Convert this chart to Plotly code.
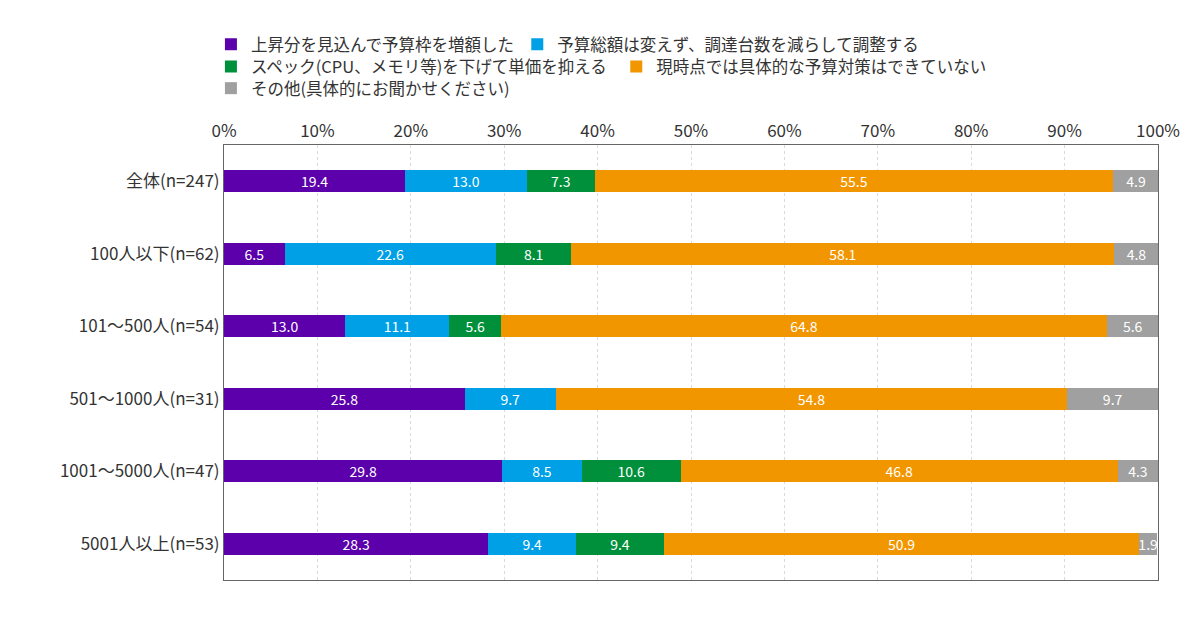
import plotly.graph_objects as go

# Categories (top to bottom)
categories = ["全体(n=247)", "100人以下(n=62)", "101～500人(n=54)",
              "501～1000人(n=31)", "1001～5000人(n=47)", "5001人以上(n=53)"]

series_names = [
    "上昇分を見込んで予算枠を増額した",
    "予算総額は変えず、調達台数を減らして調整する",
    "スペック(CPU、メモリ等)を下げて単価を抑える",
    "現時点では具体的な予算対策はできていない",
    "その他(具体的にお聞かせください)",
]

increase = [19.4, 6.5, 13.0, 25.8, 29.8, 28.3]
reduce_units = [13.0, 22.6, 11.1, 9.7, 8.5, 9.4]
lower_spec = [7.3, 8.1, 5.6, 0.0, 10.6, 9.4]
no_measure = [55.5, 58.1, 64.8, 54.8, 46.8, 50.9]
other = [4.9, 4.8, 5.6, 9.7, 4.3, 1.9]

tick_vals = [0, 10, 20, 30, 40, 50, 60, 70, 80, 90, 100]
tick_text = [f"{v}%" for v in tick_vals]

colors = ["#5B00AA", "#00A0E6", "#00903C", "#F29600", "#A0A0A0"]

# one legend per entry so the rows flow like the original
legend_ids = ["legend", "legend2", "legend3", "legend4", "legend5"]
legend_pos = [(-0.014, 1.231), (0.314, 1.231), (-0.014, 1.180), (0.420, 1.180), (-0.014, 1.130)]

font_family = "Noto Sans CJK JP"

fig = go.Figure()

for name, values, color, lg in zip(series_names,
                                   [increase, reduce_units, lower_spec, no_measure, other],
                                   colors, legend_ids):
    fig.add_trace(go.Bar(
        y=categories,
        x=values,
        name=name,
        orientation="h",
        legend=lg,
        marker=dict(color=color, line=dict(width=0)),
        text=[f"{v:.1f}" if v > 0 else "" for v in values],
        textposition="inside",
        insidetextanchor="middle",
        textangle=0,
        constraintext="none",
        textfont=dict(color="white", size=14, family=font_family),
    ))

legend_style = dict(
    orientation="h",
    xanchor="left",
    yanchor="middle",
    font=dict(size=16.5, color="#333333", family=font_family),
    bgcolor="rgba(0,0,0,0)",
)
legends = {}
for lg, (lx, ly) in zip(legend_ids, legend_pos):
    legends[lg] = dict(legend_style, x=lx, y=ly)

fig.update_layout(
    width=1184,
    height=601,
    barmode="stack",
    bargap=0.69,
    plot_bgcolor="white",
    paper_bgcolor="white",
    font=dict(family=font_family, color="#333333"),
    margin=dict(l=216, r=31, t=137, b=29),
    showlegend=True,
    **legends,
    xaxis=dict(
        side="top",
        range=[0, 100],
        tickvals=tick_vals,
        ticktext=tick_text,
        tickfont=dict(size=17, color="#333333"),
        showgrid=True,
        gridcolor="#D9D9D9",
        griddash="dot",
        zeroline=False,
        showline=True,
        linecolor="#666666",
        mirror=True,
        ticks="",
        fixedrange=True,
    ),
    yaxis=dict(
        autorange="reversed",
        tickfont=dict(size=17, color="#333333"),
        showline=True,
        linecolor="#666666",
        mirror=True,
        ticks="",
        ticklabelstandoff=0,
        fixedrange=True,
    ),
)

fig.write_html("out.html")
